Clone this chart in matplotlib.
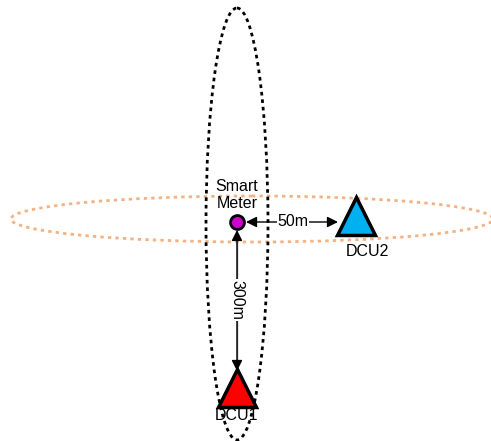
"""Smart meter / DCU distance diagram"""

import matplotlib.pyplot as plt
from matplotlib.patches import Ellipse

# nodes (pixel layout, y grows downward)
node_names = ["Smart\nMeter", "DCU2", "DCU1"]
node_x = [237, 356, 237]
node_y = [222, 216, 388]
node_colors = ["#cc00cc", "#00b0f0", "#ff0000"]
distances = ["50m", "300m"]

fig = plt.figure(figsize=(4.91, 4.41), dpi=100)
ax = fig.add_axes([0, 0, 1, 1])
ax.set_xlim(0, 491)
ax.set_ylim(441, 0)
ax.axis("off")

# coverage ellipses
ax.add_patch(Ellipse((252, 219), 482, 46, fill=False, edgecolor="#f4b183",
                     linestyle=(0, (1.2, 1.5)), linewidth=2))
ax.add_patch(Ellipse((237, 224), 62, 432, fill=False, edgecolor="black",
                     linestyle=(0, (1.3, 1.4)), linewidth=2))

# arrows
ax.annotate("", xy=(node_x[0] + 9, node_y[0]), xytext=(node_x[1] - 18, node_y[0]),
            arrowprops=dict(arrowstyle="<|-|>", color="black", lw=1,
                            mutation_scale=16, shrinkA=0, shrinkB=0))
ax.text(293, node_y[0] - 1, distances[0], ha="center", va="center",
        fontsize=11.5, family="Liberation Sans",
        bbox=dict(facecolor="white", edgecolor="none", pad=0.5))
ax.annotate("", xy=(node_x[0], node_y[0] + 8), xytext=(node_x[2], 371),
            arrowprops=dict(arrowstyle="<|-|>", color="black", lw=1,
                            mutation_scale=16, shrinkA=0, shrinkB=0))
ax.plot([node_x[0], node_x[0]], [node_y[0] + 18, 360], color="#808080", lw=1)
ax.text(node_x[0], 300, distances[1], ha="center", va="center", rotation=270,
        fontsize=11.5, family="Liberation Sans",
        bbox=dict(facecolor="white", edgecolor="none", pad=0.5))

# nodes
ax.plot(node_x[0], node_y[0], "o", ms=10, mfc=node_colors[0], mec="black", mew=2)
ax.plot(node_x[1], node_y[1], "^", ms=27, mfc=node_colors[1], mec="black", mew=2.5)
ax.plot(node_x[2], node_y[2], "^", ms=27, mfc=node_colors[2], mec="black", mew=2.5)

# labels
ax.text(node_x[0], 195, node_names[0], ha="center", va="center", fontsize=11.5,
        family="Liberation Sans", linespacing=1.2)
ax.text(367, 251, node_names[1], ha="center", va="center", fontsize=11.5,
        family="Liberation Sans")
ax.text(node_x[2], 416, node_names[2], ha="center", va="center", fontsize=11.5,
        family="Liberation Sans")

plt.savefig("out.png", dpi=100)
